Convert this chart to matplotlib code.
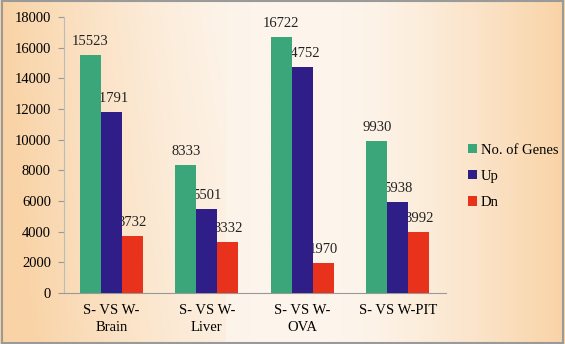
import numpy as np
import matplotlib
matplotlib.use('Agg')
import matplotlib.pyplot as plt
from matplotlib.colors import LinearSegmentedColormap
from matplotlib.patches import Rectangle

# ========== 資料 ==========
categories = ['S- VS W-\nBrain', 'S- VS W-\nLiver', 'S- VS W-\nOVA', 'S- VS W-PIT']
series_names = ['No. of Genes', 'Up', 'Dn']
no_of_genes = [15523, 8333, 16722, 9930]
up = [11791, 5501, 14752, 5938]
dn = [3732, 3332, 1970, 3992]
y_ticks = [0, 2000, 4000, 6000, 8000, 10000, 12000, 14000, 16000, 18000]

colors = ['#3aa679', '#2f1d88', '#e8321c']

plt.rcParams['font.family'] = ['Liberation Serif', 'DejaVu Serif']

fig = plt.figure(figsize=(5.65, 3.44), dpi=100)

# 背景漸層 (左右偏橘, 中間較白)
bg = fig.add_axes([0, 0, 1, 1], zorder=-10)
xx = np.linspace(0, 1, 300)
yy = np.linspace(0, 1, 200)
X, Y = np.meshgrid(xx, yy)
t = np.clip(np.maximum((0.45 - X) / 0.45, (X - 0.6) / 0.4), 0, 1) ** 1.4
t = np.clip(t + 0.15 * (1 - Y) * (X < 0.4), 0, 1)
cmap = LinearSegmentedColormap.from_list('peach', ['#fdf5ec', '#f9d3a6'])
bg.imshow(t, cmap=cmap, aspect='auto', extent=[0, 1, 0, 1], origin='lower', vmin=0, vmax=1)
bg.add_patch(Rectangle((0.004, 0.004), 0.992, 0.992, fill=False, edgecolor='#9a9a9a',
                       linewidth=1.5, transform=bg.transAxes))
bg.set_xlim(0, 1)
bg.set_ylim(0, 1)
bg.axis('off')

ax = fig.add_axes([63.5 / 565, 51 / 344, 382 / 565, 276 / 344])
ax.patch.set_alpha(0)

x = np.arange(len(categories))
w = 0.22
for i, (vals, name) in enumerate(zip([no_of_genes, up, dn], series_names)):
    pos = x + (i - 1) * w
    ax.bar(pos, vals, width=w, color=colors[i], label=name, zorder=3)
    # 數值標籤放在長條底下一層, 被相鄰長條蓋住的部分不顯示
    for px, v in zip(pos, vals):
        ax.text(px, v + 450, str(v), ha='center', va='bottom', fontsize=10.5, color='#222222', zorder=2)

ax.set_xlim(-0.5, 3.5)
ax.set_ylim(0, 18000)
ax.set_yticks(y_ticks)
ax.set_yticklabels([str(v) for v in y_ticks], fontsize=10.5)
ax.set_xticks(x)
ax.set_xticklabels(categories, fontsize=10.5, linespacing=1.35)
ax.tick_params(axis='x', length=0, pad=8)
ax.tick_params(axis='y', length=4, color='#999999', pad=5)
for s in ['top', 'right']:
    ax.spines[s].set_visible(False)
ax.spines['left'].set_color('#bbbbbb')
ax.spines['bottom'].set_color('#999999')

fig.legend(loc='upper left', bbox_to_anchor=(462 / 565, 1 - 138 / 344), frameon=False,
           fontsize=10.5, handlelength=0.6, handleheight=0.6, handletextpad=0.3,
           labelspacing=0.9, borderaxespad=0)

fig.savefig('out.png', dpi=100)
